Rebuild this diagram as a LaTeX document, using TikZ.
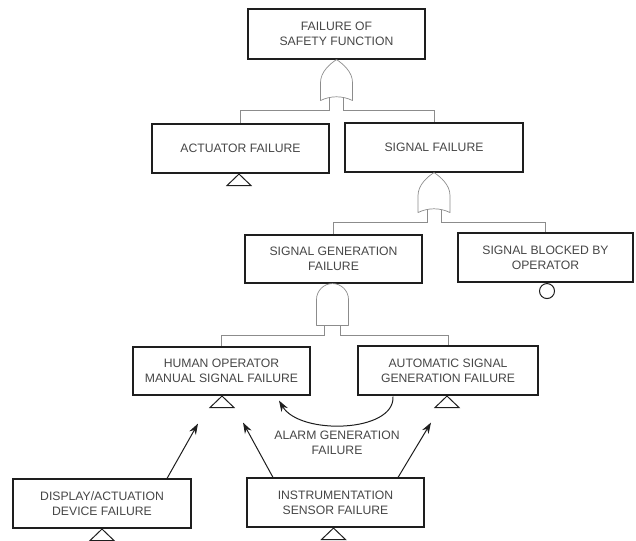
\documentclass[tikz,border=0pt]{standalone}
\usepackage{fontspec}
\setmainfont{Liberation Sans}
\usetikzlibrary{calc,arrows.meta}
\definecolor{txt}{RGB}{70,70,70}
\definecolor{boxline}{RGB}{30,30,30}
\definecolor{thin}{RGB}{140,140,140}
\tikzset{
  evbox/.style={draw=boxline, line width=1.1pt, rectangle, inner sep=0pt, align=center,
    text=txt, font=\fontsize{12.2}{15}\selectfont, minimum height=49pt},
  conn/.style={draw=thin, line width=0.7pt},
  gateline/.style={draw=thin, line width=0.7pt, line join=round},
  sym/.style={draw=boxline, line width=1pt},
  arr/.style={draw=boxline, line width=1pt, -{Stealth[length=11pt,width=7.5pt]}},
  lbl/.style={text=txt, align=center, font=\fontsize{12.2}{15}\selectfont}
}
\begin{document}
\begin{tikzpicture}[x=1pt,y=-1pt]
\useasboundingbox (0,0) rectangle (636,540);
% boxes
\node[evbox, minimum width=177pt, minimum height=50pt] (top) at (336.5,34) {FAILURE OF\\SAFETY FUNCTION};
\node[evbox, minimum width=177pt] (act) at (240.5,148.5) {ACTUATOR FAILURE};
\node[evbox, minimum width=178pt] (sig) at (434,147.5) {SIGNAL FAILURE};
\node[evbox, minimum width=177pt, minimum height=48pt] (sgen) at (333.5,259) {SIGNAL GENERATION\\FAILURE};
\node[evbox, minimum width=175pt] (sblk) at (545.5,257.5) {SIGNAL BLOCKED BY\\OPERATOR};
\node[evbox, minimum width=177pt, minimum height=48pt] (human) at (221.5,371) {HUMAN OPERATOR\\MANUAL SIGNAL FAILURE};
\node[evbox, minimum width=180pt] (auto) at (448,370.5) {AUTOMATIC SIGNAL\\GENERATION FAILURE};
\node[evbox, minimum width=178pt] (disp) at (102,503.5) {DISPLAY/ACTUATION\\DEVICE FAILURE};
\node[evbox, minimum width=177pt] (instr) at (335.5,502.5) {INSTRUMENTATION\\SENSOR FAILURE};
\node[lbl] (alarm) at (337,443) {ALARM GENERATION\\FAILURE};

% OR gate 1
\coordinate (g1) at (top.south);
\draw[gateline] ($(g1)+(-16,41)$) -- ($(g1)+(-16,23)$)
  .. controls ($(g1)+(-16,12)$) and ($(g1)+(-6,4)$) .. (g1)
  .. controls ($(g1)+(6,4)$) and ($(g1)+(16,12)$) .. ($(g1)+(16,23)$)
  -- ($(g1)+(16,41)$)
  .. controls ($(g1)+(6,36)$) and ($(g1)+(-6,36)$) .. cycle;
\draw[conn] ($(g1)+(-7,38)$) -- ($(g1)+(-7,51)$) -| (act.north);
\draw[conn] ($(g1)+(7,38)$) -- ($(g1)+(7,51)$) -| (sig.north);

% OR gate 2
\coordinate (g2) at (sig.south);
\draw[gateline] ($(g2)+(-16,40)$) -- ($(g2)+(-16,23)$)
  .. controls ($(g2)+(-16,12)$) and ($(g2)+(-6,4)$) .. (g2)
  .. controls ($(g2)+(6,4)$) and ($(g2)+(16,12)$) .. ($(g2)+(16,23)$)
  -- ($(g2)+(16,40)$)
  .. controls ($(g2)+(6,35)$) and ($(g2)+(-6,35)$) .. cycle;
\draw[conn] ($(g2)+(-7,37)$) -- ($(g2)+(-7,50)$) -| (sgen.north);
\draw[conn] ($(g2)+(7,37)$) -- ($(g2)+(7,50)$) -| (sblk.north);

% AND gate
\coordinate (g3) at ($(sgen.south)+(-1,0)$);
\draw[gateline] ($(g3)+(-16,42)$) -- ($(g3)+(-16,16)$)
  .. controls ($(g3)+(-16,7.2)$) and ($(g3)+(-8.8,0)$) .. (g3)
  .. controls ($(g3)+(8.8,0)$) and ($(g3)+(16,7.2)$) .. ($(g3)+(16,16)$)
  -- ($(g3)+(16,42)$) -- cycle;
\draw[conn] ($(g3)+(-8,42)$) -- ($(g3)+(-8,52)$) -| (human.north);
\draw[conn] ($(g3)+(8,42)$) -- ($(g3)+(8,52)$) -| (auto.north);

% transfer triangles and undeveloped event circle
\draw[sym] ($(act.south)+(-1.5,0.5)$) -- ++(-12,11.5) -- ++(24,0) -- cycle;
\draw[sym] ($(human.south)+(0.5,0.5)$) -- ++(-12,11.5) -- ++(24,0) -- cycle;
\draw[sym] ($(auto.south)+(-1,0.5)$) -- ++(-12,11.5) -- ++(24,0) -- cycle;
\draw[sym] ($(disp.south)+(0,0.5)$) -- ++(-12,11.5) -- ++(24,0) -- cycle;
\draw[sym] ($(instr.south)+(-2,0.5)$) -- ++(-12,11.5) -- ++(24,0) -- cycle;
\draw[sym] ($(sblk.south)+(1.5,8.5)$) circle[radius=7.5pt];

% arrows
\draw[arr] ($(disp.north)+(65,0)$) -- ($(human.south)+(-23.5,28)$);
\draw[arr] ($(instr.north)+(-62.5,0)$) -- ($(human.south)+(21.5,27)$);
\draw[arr] ($(instr.north)+(62.5,0)$) -- ($(auto.south)+(-17,27)$);
\draw[arr] ($(auto.south)+(-55,1)$) .. controls +(2,36) and +(21,35) .. ($(human.south)+(57.5,5)$);
\end{tikzpicture}
\end{document}
